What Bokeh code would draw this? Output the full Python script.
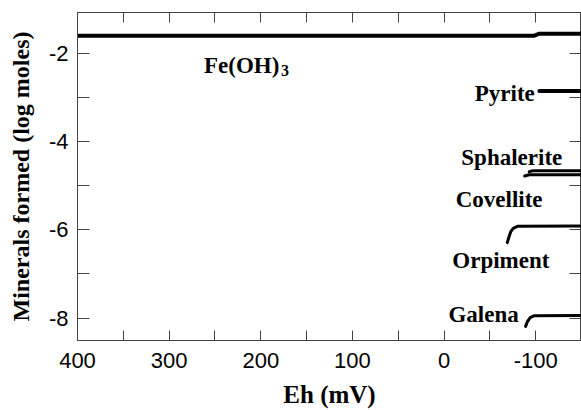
from bokeh.plotting import figure
from bokeh.models import Range1d, FixedTicker, LinearAxis, Label
from bokeh.embed import file_html
from bokeh.resources import INLINE

# ---- data (Eh in mV, minerals formed in log moles) ----
x_ticks = [400, 300, 200, 100, 0, -100]
x_minor = [350, 250, 150, 50, -50, -150]
y_ticks = [-2, -4, -6, -8]
y_minor = [-3, -5, -7]

eh_fe = [400, -98, -104, -150]
fe_oh3 = [-1.60, -1.60, -1.55, -1.55]

eh_pyrite = [-104, -150]
pyrite = [-2.85, -2.85]

eh_sphalerite = [-93, -97, -150]
sphalerite = [-4.68, -4.66, -4.66]

eh_covellite = [-88, -93, -150]
covellite = [-4.78, -4.75, -4.75]

eh_orpiment = [-69, -71, -73, -76, -80, -150]
orpiment = [-6.29, -6.15, -6.03, -5.96, -5.92, -5.91]

eh_galena = [-89, -91, -94, -98, -150]
galena = [-8.19, -8.08, -7.99, -7.95, -7.94]

SERIF = "Liberation Serif"
SANS = "Liberation Sans"
FRAME = "#444444"

p = figure(width=581, height=410, x_range=Range1d(400, -150), y_range=Range1d(-8.51, -1.07),
           output_backend="svg", toolbar_location=None,
           min_border_left=77, min_border_right=0, min_border_top=12, min_border_bottom=69)
p.xgrid.visible = False
p.ygrid.visible = False
p.outline_line_color = FRAME
p.outline_line_width = 1
p.background_fill_color = "white"
p.border_fill_color = "white"

def style_ticks(ax, tick_len):
    ax.major_tick_in = tick_len
    ax.major_tick_out = 0
    ax.minor_tick_in = tick_len
    ax.minor_tick_out = 0
    ax.major_tick_line_color = FRAME
    ax.minor_tick_line_color = FRAME
    ax.axis_line_color = FRAME

def style_labels(ax, ticks):
    ax.major_label_text_font = SANS
    ax.major_label_text_font_size = "22px"
    ax.major_label_text_color = "black"
    ax.major_label_overrides = {t: str(t) for t in ticks}
    ax.axis_label_text_font = SERIF
    ax.axis_label_text_font_style = "bold"
    ax.axis_label_text_color = "black"

xa = p.xaxis[0]
xa.ticker = FixedTicker(ticks=x_ticks, minor_ticks=x_minor)
style_ticks(xa, 10)
style_labels(xa, x_ticks)
xa.major_label_standoff = 12
xa.axis_label = "Eh (mV)"
xa.axis_label_text_font_size = "25px"
xa.axis_label_standoff = 10

ya = p.yaxis[0]
ya.ticker = FixedTicker(ticks=y_ticks, minor_ticks=y_minor)
style_ticks(ya, 12)
style_labels(ya, y_ticks)
ya.major_label_standoff = 9
ya.axis_label = "Minerals formed (log moles)"
ya.axis_label_text_font_size = "24px"
ya.axis_label_standoff = 12

# top and right frames: tick marks only (no labels)
top_ax = LinearAxis(ticker=FixedTicker(ticks=[], minor_ticks=x_ticks + x_minor))
style_ticks(top_ax, 10)
top_ax.major_label_standoff = 0
p.add_layout(top_ax, "above")
right_ax = LinearAxis(ticker=FixedTicker(ticks=[], minor_ticks=y_ticks + y_minor))
style_ticks(right_ax, 12)
right_ax.major_label_standoff = 0
p.add_layout(right_ax, "right")

p.line(eh_fe, fe_oh3, line_color="black", line_width=4, line_cap="round")
p.line(eh_pyrite, pyrite, line_color="black", line_width=4, line_cap="round")
p.line(eh_sphalerite, sphalerite, line_color="black", line_width=3, line_cap="round")
p.line(eh_covellite, covellite, line_color="black", line_width=3, line_cap="round")
p.line(eh_orpiment, orpiment, line_color="black", line_width=3, line_cap="round")
p.line(eh_galena, galena, line_color="black", line_width=3, line_cap="round")

def lab(text, x, y, align="right", size="23px"):
    p.add_layout(Label(x=x, y=y, text=text, text_align=align, text_baseline="alphabetic",
                       text_font=SERIF, text_font_style="bold", text_font_size=size,
                       text_color="black"))

lab("Fe(OH)", 262, -2.265, align="left")
lab("3", 178, -2.38, align="left", size="16px")
lab("Pyrite", -99, -2.90)
lab("Sphalerite", -129, -4.35)
lab("Covellite", -107.5, -5.32)
lab("Orpiment", -115, -6.69)
lab("Galena", -81.5, -7.92)

open("out.html", "w").write(file_html(p, INLINE))
